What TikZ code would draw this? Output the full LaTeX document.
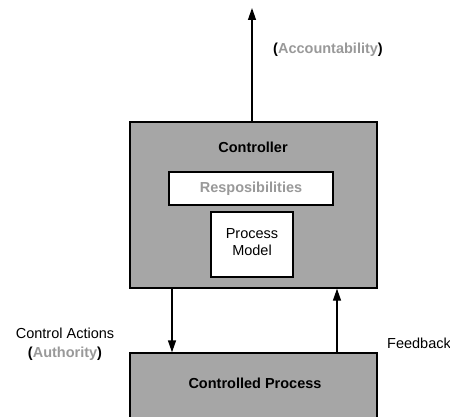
\documentclass[tikz,border=0pt]{standalone}
\usepackage{fontspec}
\setmainfont{Liberation Sans}
\usetikzlibrary{arrows.meta}
\definecolor{boxgray}{HTML}{A6A6A6}
\definecolor{txtgray}{HTML}{999999}
\begin{document}
\begin{tikzpicture}[x=1pt,y=-1pt,
  graybox/.style={draw=black,line width=1.3pt,fill=boxgray,inner sep=0pt},
  whitebox/.style={draw=black,line width=1.3pt,fill=white,inner sep=0pt},
  lbl/.style={font=\fontsize{14.5}{17}\selectfont,inner sep=0pt,align=center},
  arr/.style={line width=1.3pt,-{Triangle[length=12pt,width=8pt]}}]
\useasboundingbox (0,0) rectangle (450,417);
% Controller
\node[graybox,minimum width=247pt,minimum height=166pt] (ctrl) at (253.5,205) {};
\node[lbl,font=\fontsize{14.5}{17}\selectfont\bfseries] (ctrlt) at (253,147) {Controller};
\node[whitebox,minimum width=164pt,minimum height=33pt] (resp) at (251,188.5) {};
\node[lbl,font=\fontsize{14.5}{17}\selectfont\bfseries,text=txtgray] (respt) at (251,188.5) {Resposibilities};
\node[whitebox,minimum width=82pt,minimum height=65pt] (pm) at (252,244.5) {};
\node[lbl] (pmt) at (252,242) {Process\\Model};
% Controlled process
\node[graybox,minimum width=247pt,minimum height=80pt] (cp) at (253.5,393) {};
\node[lbl,font=\fontsize{14.5}{17}\selectfont\bfseries] (cpt) at (255,383) {Controlled Process};
% arrows
\coordinate (top) at (252,8);
\draw[arr] (ctrl.north -| top) -- (top);
\draw[arr] (ctrl.south -| 172,0) -- (cp.north -| 172,0);
\draw[arr] (cp.north -| 337,0) -- (ctrl.south -| 337,0);
% labels
\node[lbl] (acc) at (328,50) {\textbf{(}\textbf{\textcolor{txtgray}{Accountability}}\textbf{)}};
\node[lbl,font=\fontsize{14.5}{19.5}\selectfont] (ca) at (65,344) {Control Actions\\\textbf{(}\textbf{\textcolor{txtgray}{Authority}}\textbf{)}};
\node[lbl,anchor=west] (fb) at (387,343) {Feedback};
\end{tikzpicture}
\end{document}
